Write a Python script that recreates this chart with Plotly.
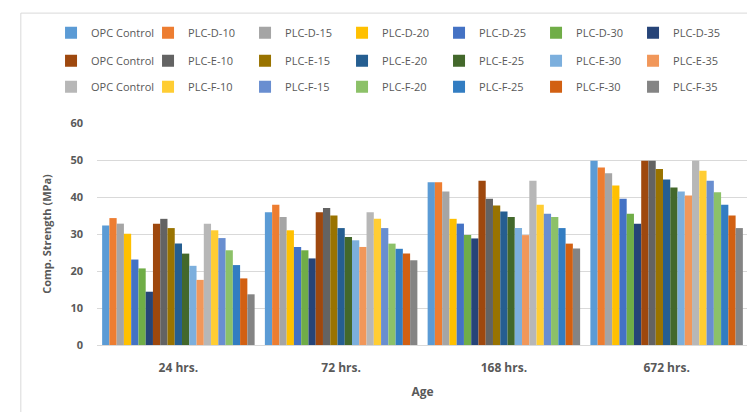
import plotly.graph_objects as go

ages = ["24 hrs.", "72 hrs.", "168 hrs.", "672 hrs."]

series_names = [
    "OPC Control", "PLC-D-10", "PLC-D-15", "PLC-D-20", "PLC-D-25", "PLC-D-30", "PLC-D-35",
    "OPC Control", "PLC-E-10", "PLC-E-15", "PLC-E-20", "PLC-E-25", "PLC-E-30", "PLC-E-35",
    "OPC Control", "PLC-F-10", "PLC-F-15", "PLC-F-20", "PLC-F-25", "PLC-F-30", "PLC-F-35",
]

# values per series: [24 hrs, 72 hrs, 168 hrs, 672 hrs]
opc_d = [32.3, 35.9, 44.0, 49.8]
plc_d_10 = [34.3, 37.9, 44.0, 48.0]
plc_d_15 = [32.8, 34.6, 41.5, 46.4]
plc_d_20 = [30.1, 31.0, 34.1, 43.1]
plc_d_25 = [23.1, 26.5, 32.8, 39.5]
plc_d_30 = [20.7, 25.6, 29.7, 35.5]
plc_d_35 = [14.4, 23.4, 28.8, 32.8]
opc_e = [32.8, 35.9, 44.4, 49.8]
plc_e_10 = [34.1, 37.0, 39.5, 49.8]
plc_e_15 = [31.6, 35.0, 37.7, 47.6]
plc_e_20 = [27.4, 31.6, 36.1, 44.7]
plc_e_25 = [24.7, 29.2, 34.6, 42.6]
plc_e_30 = [21.4, 28.3, 31.6, 41.5]
plc_e_35 = [17.6, 26.5, 29.7, 40.4]
opc_f = [32.8, 35.9, 44.4, 49.8]
plc_f_10 = [31.0, 34.1, 37.9, 47.1]
plc_f_15 = [28.9, 31.6, 35.5, 44.4]
plc_f_20 = [25.6, 27.4, 34.6, 41.3]
plc_f_25 = [21.6, 26.0, 31.6, 37.9]
plc_f_30 = [18.0, 24.7, 27.4, 35.0]
plc_f_35 = [13.7, 22.9, 26.1, 31.6]

series_values = [
    opc_d, plc_d_10, plc_d_15, plc_d_20, plc_d_25, plc_d_30, plc_d_35,
    opc_e, plc_e_10, plc_e_15, plc_e_20, plc_e_25, plc_e_30, plc_e_35,
    opc_f, plc_f_10, plc_f_15, plc_f_20, plc_f_25, plc_f_30, plc_f_35,
]

colors = [
    "#5B9BD5", "#ED7D31", "#A5A5A5", "#FFC000", "#4472C4", "#70AD47", "#264478",
    "#9E480E", "#636363", "#997300", "#255E91", "#43682B", "#7CAFDD", "#F1975A",
    "#B7B7B7", "#FFCD33", "#698ED0", "#8CC168", "#327DC2", "#D26012", "#848484",
]

# rows 1-3: first six entries in legend/legend2/legend3, seventh in legend4/5/6
legend_ids = (["legend"] * 6 + ["legend4"] + ["legend2"] * 6 + ["legend5"]
              + ["legend3"] * 6 + ["legend6"])

fig = go.Figure()
for name, vals, col, lg in zip(series_names, series_values, colors, legend_ids):
    fig.add_trace(go.Bar(x=ages, y=vals, name=name, marker=dict(color=col, line=dict(width=0)),
                         legend=lg))

font_family = "Open Sans, Liberation Sans, sans-serif"
txt = "#595959"

def leg(x, y):
    return dict(orientation="h", xref="container", yref="container", x=x, y=y,
                xanchor="left", yanchor="middle", entrywidth=52, entrywidthmode="pixels",
                font=dict(size=11, color=txt, family=font_family), itemwidth=30,
                bgcolor="rgba(0,0,0,0)", tracegroupgap=0)

x1, x7 = 0.057, 0.057 + 6 * 97 / 755
r1, r2, r3 = 0.940, 0.872, 0.809

fig.update_layout(
    width=755, height=412,
    margin=dict(l=89, r=15, t=115, b=75, autoexpand=False),
    paper_bgcolor="white", plot_bgcolor="white",
    barmode="group", bargap=0.063, bargroupgap=0,
    font=dict(family=font_family, color=txt, size=11),
    legend=leg(x1, r1), legend2=leg(x1, r2), legend3=leg(x1, r3),
    legend4=leg(x7, r1), legend5=leg(x7, r2), legend6=leg(x7, r3),
    xaxis=dict(title=dict(text="<b>Age</b>", font=dict(size=12, color=txt), standoff=12),
               showline=True, linecolor="#D9D9D9", linewidth=1, ticklabelstandoff=12,
               tickfont=dict(size=12, color=txt), ticks=""),
    yaxis=dict(title=dict(text="<b>Comp. Strength (MPa)</b>", font=dict(size=11, color=txt), standoff=16),
               range=[0, 60], dtick=10, showgrid=True, gridcolor="#D9D9D9", gridwidth=1,
               zeroline=False, tickfont=dict(size=11, color=txt), ticks="", ticklabelstandoff=13),
    shapes=[dict(type="rect", xref="paper", yref="paper",
                 x0=-0.117, x1=1.0145, y0=-0.329, y1=1.495,
                 line=dict(color="#D9D9D9", width=1), fillcolor="rgba(0,0,0,0)", layer="below")],
)
fig.update_xaxes(tickprefix="<b>", ticksuffix="</b>")
fig.update_yaxes(tickprefix="<b>", ticksuffix="</b>")

fig.write_html("out.html")
